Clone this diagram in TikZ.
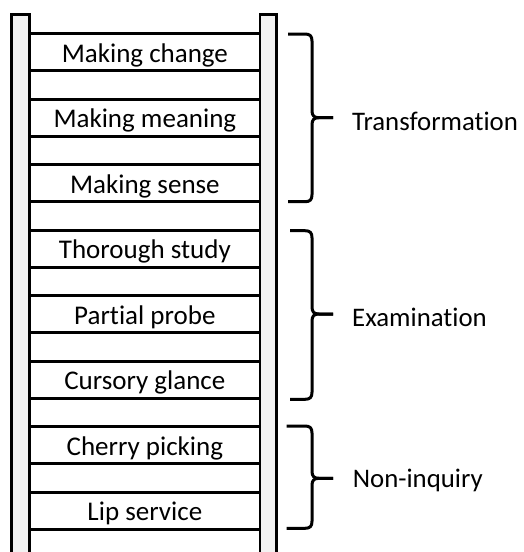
\documentclass[tikz,border=0pt]{standalone}
\usepackage{fontspec}
\setmainfont{Carlito}[Ligatures=NoCommon]
\definecolor{railgray}{HTML}{F2F2F2}
% curly brace: #1 left end of the arms, #2 top y, #3 bottom y, #4 tip y
\newcommand\groupbrace[4]{%
  \draw[bracepath] (#1,#2) -- (305,#2)
    .. controls (310,#2) and (312,#2+2) .. (312,#2+7)
    -- (312,#4-7)
    .. controls (312,#4-2) and (314,#4) .. (319,#4) -- (333,#4);
  \draw[bracepath] (333,#4) -- (319,#4)
    .. controls (314,#4) and (312,#4+2) .. (312,#4+7)
    -- (312,#3-7)
    .. controls (312,#3-2) and (310,#3) .. (305,#3) -- (#1,#3);
}
\begin{document}
\begin{tikzpicture}[x=1pt,y=-1pt,
  rail/.style={draw=black, line width=2.8pt, fill=railgray},
  rung/.style={draw=black, line width=2.8pt, fill=white,
    minimum width=230.3pt, minimum height=37pt, inner sep=0pt,
    text height=26pt, text depth=5.6pt,
    font=\fontsize{27}{32}\selectfont},
  bracepath/.style={draw=black, line width=3pt, line join=round},
  grouplabel/.style={anchor=base west, inner sep=0pt,
    font=\fontsize{26.8}{32}\selectfont}]
\useasboundingbox (0,0) rectangle (523,552);
\clip (0,0) rectangle (523,552);

% the two rails of the ladder
\draw[rail] (11.3,14.3) rectangle (29.7,580);
\draw[rail] (260,14.3) rectangle (276.7,580);

% the rungs, top to bottom
\foreach \i/\t in {0/Making change, 1/Making meaning, 2/Making sense,
                   3/Thorough study, 4/Partial probe, 5/Cursory glance,
                   6/Cherry picking, 7/Lip service}
  \node[rung] (rung\i) at (144.85, 52.2+65.5*\i) {\t};

% group braces and their labels
\groupbrace{288}{34}{201.7}{117.7}
\node[grouplabel] (transformation) at (352,130) {Transformation};

\groupbrace{290}{230.7}{399.3}{314}
\node[grouplabel] (examination) at (352,326.5) {Examination};

\groupbrace{286.7}{426}{528.3}{478.3}
\node[grouplabel] (noninquiry) at (352.7,487.5) {Non-inquiry};
\end{tikzpicture}
\end{document}
